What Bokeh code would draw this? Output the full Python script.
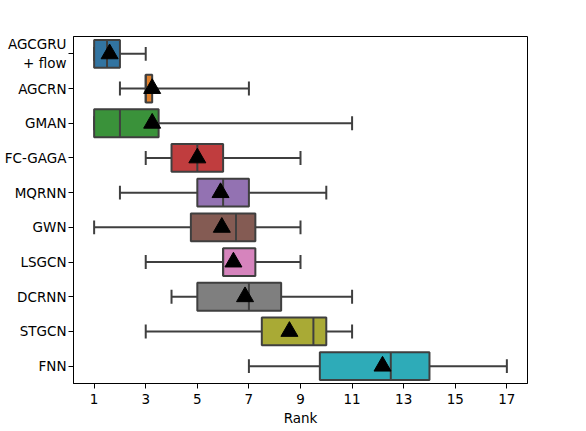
from bokeh.plotting import figure
from bokeh.models import FactorRange, FixedTicker, Range1d
from bokeh.embed import file_html
from bokeh.resources import INLINE

models = ["AGCGRU\n+ flow", "AGCRN", "GMAN", "FC-GAGA", "MQRNN", "GWN", "LSGCN", "DCRNN", "STGCN", "FNN"]
whisker_lo = [1, 2, 1, 3, 2, 1, 3, 4, 3, 7]
q1 = [1, 3, 1, 4, 5, 4.75, 6, 5, 7.5, 9.75]
median = [1.5, 3, 2, 5, 6, 6.5, 6, 7, 9.5, 12.5]
q3 = [2, 3.25, 3.5, 6, 7, 7.25, 7.25, 8.25, 10, 14]
whisker_hi = [3, 7, 11, 9, 10, 9, 9, 11, 11, 17]
means = [1.6, 3.25, 3.25, 5.0, 5.9, 5.95, 6.4, 6.85, 8.57, 12.18]
colors = ["#3274a1", "#e1812c", "#3a923a", "#c03d3e", "#9372b2",
          "#845b53", "#d684bd", "#7f7f7f", "#a9aa35", "#2eabb8"]
x_ticks = [1, 3, 5, 7, 9, 11, 13, 15, 17]

FS = "13.5px"
edge = "#3f3f3f"

p = figure(frame_width=454, frame_height=347, output_backend="svg", toolbar_location=None,
           y_range=FactorRange(factors=list(reversed(models)), range_padding=0),
           x_range=Range1d(0.2, 17.8),
           min_border_left=73, min_border_right=50, min_border_top=36, min_border_bottom=40)

p.segment(x0=whisker_lo, y0=models, x1=q1, y1=models, line_color=edge, line_width=2)
p.segment(x0=q3, y0=models, x1=whisker_hi, y1=models, line_color=edge, line_width=2)
p.hbar(y=models, left=whisker_lo, right=whisker_lo, height=0.4, line_color=edge, line_width=2, fill_alpha=0)
p.hbar(y=models, left=whisker_hi, right=whisker_hi, height=0.4, line_color=edge, line_width=2, fill_alpha=0)
p.hbar(y=models, left=q1, right=q3, height=0.8, fill_color=colors, line_color=edge, line_width=2)
p.hbar(y=models, left=median, right=median, height=0.8, line_color=edge, line_width=2, fill_alpha=0)
p.scatter(x=means, y=models, marker="triangle", size=17, fill_color="black", line_color="black")

p.xgrid.visible = False
p.ygrid.visible = False
p.outline_line_color = "black"
p.outline_line_width = 1

p.xaxis.ticker = FixedTicker(ticks=x_ticks)
p.xaxis.minor_tick_line_color = None
p.xaxis.major_tick_out = 5
p.xaxis.major_tick_in = 0
p.xaxis.axis_label = "Rank"
p.xaxis.axis_label_text_font_style = "normal"
for ax in (p.xaxis, p.yaxis):
    ax.major_label_text_font = "DejaVu Sans"
    ax.major_label_text_font_size = FS
    ax.major_label_text_color = "black"
    ax.axis_label_text_font = "DejaVu Sans"
    ax.axis_label_text_font_size = FS
    ax.axis_label_text_color = "black"
    ax.axis_line_color = "black"
    ax.major_tick_line_color = "black"
p.yaxis.major_tick_out = 5
p.yaxis.major_tick_in = 0
p.yaxis.minor_tick_line_color = None
p.xaxis.axis_label_standoff = 3
p.xaxis.major_label_standoff = 5
p.yaxis.major_label_standoff = 2

open("out.html", "w").write(file_html(p, INLINE))
